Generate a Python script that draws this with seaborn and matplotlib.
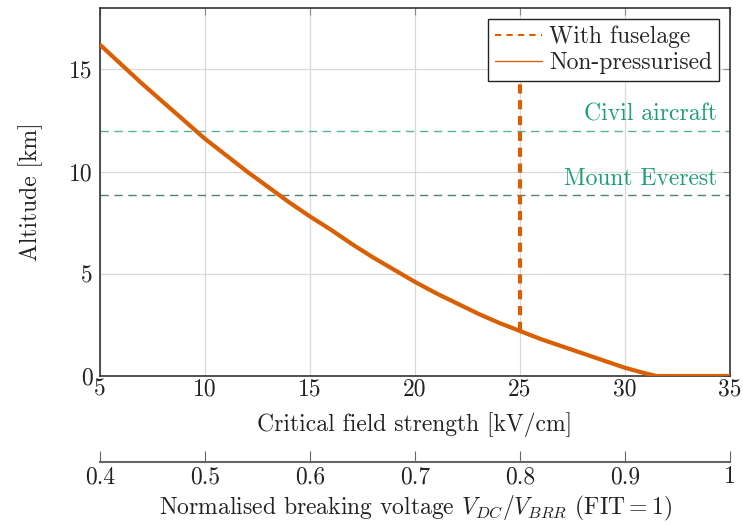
import numpy as np
import pandas as pd
import seaborn as sns
import matplotlib.pyplot as plt
from matplotlib.lines import Line2D

# critical field strength [kV/cm] vs altitude [km]
field = [5, 6, 7, 8, 9, 10, 11, 12, 13, 14, 15, 16, 17, 18, 19, 20,
         21, 22, 23, 24, 25, 26, 27, 28, 29, 30, 31, 31.5, 33, 35]
altitude = [16.2, 15.25, 14.3, 13.4, 12.5, 11.6, 10.8, 10.0, 9.25, 8.5, 7.8, 7.15,
            6.45, 5.8, 5.2, 4.6, 4.05, 3.55, 3.05, 2.6, 2.2, 1.8, 1.45, 1.1, 0.75,
            0.4, 0.12, 0.0, 0.0, 0.0]

fuselage_field = [25, 25]
fuselage_alt = [2.2, 16.0]

civil_alt = 12.0
everest_alt = 8.85

x_ticks = [5, 10, 15, 20, 25, 30, 35]
y_ticks = [0, 5, 10, 15]
norm_ticks = [0.4, 0.5, 0.6, 0.7, 0.8, 0.9, 1.0]
norm_labels = ['0.4', '0.5', '0.6', '0.7', '0.8', '0.9', '1']

orange = '#d95f02'
green = '#1b9e77'
fs = 17

sns.set_style("whitegrid")
plt.rcParams['font.family'] = ['cmr10', 'DejaVu Serif']
plt.rcParams['mathtext.fontset'] = 'cm'
plt.rcParams['axes.formatter.use_mathtext'] = True

fig = plt.figure(figsize=(7.43, 5.25), dpi=100)
ax = fig.add_axes([0.1346, 0.2838, 0.848, 0.701])

df = pd.DataFrame({'field': field, 'altitude': altitude})
sns.lineplot(data=df, x='field', y='altitude', color=orange, lw=3, ax=ax, zorder=3)
ax.plot(fuselage_field, fuselage_alt, color=orange, lw=3, ls=(0, (2.2, 1.6)), zorder=3)

ax.axhline(civil_alt, color=green, lw=1, ls=(0, (6, 4)), alpha=0.75, zorder=2)
ax.axhline(everest_alt, color='#2f6e5c', lw=1, ls=(0, (6, 4)), alpha=0.85, zorder=2)
ax.text(34.4, civil_alt + 0.25, 'Civil aircraft', color=green, ha='right', va='bottom', fontsize=fs)
ax.text(34.4, everest_alt + 0.25, 'Mount Everest', color=green, ha='right', va='bottom', fontsize=fs)

ax.set_xlim(5, 35)
ax.set_ylim(0, 18)
ax.set_xticks(x_ticks)
ax.set_yticks(y_ticks)
ax.set_xticklabels([str(t) for t in x_ticks])
ax.set_yticklabels([str(t) for t in y_ticks])
ax.grid(True, color='#d9d9d9', lw=0.9)
ax.tick_params(direction='in', length=5, color='#888888', top=True, right=True,
               labelsize=fs, labelcolor='#222222', pad=2)
ax.tick_params(axis='y', pad=5)
for s in ax.spines.values():
    s.set_color('#333333')
    s.set_linewidth(1.2)
ax.set_xlabel('Critical field strength [kV/cm]', fontsize=fs, labelpad=8, color='#222222')
ax.set_ylabel('Altitude [km]', fontsize=fs, labelpad=19, color='#222222')

# secondary axis: normalised breaking voltage
sec = ax.secondary_xaxis(-0.234, functions=(lambda x: 0.4 + (x - 5) * 0.02,
                                             lambda v: 5 + (v - 0.4) / 0.02))
sec.set_xticks(norm_ticks)
sec.set_xticklabels(norm_labels)
sec.tick_params(direction='in', length=8, color='#666666', labelsize=fs,
                labelcolor='#222222', pad=3)
sec.spines['bottom'].set_color('#666666')
sec.spines['bottom'].set_linewidth(1.5)
sec.set_xlabel(r'Normalised breaking voltage $V_{DC}/V_{BRR}$ (FIT$=1$)',
               fontsize=fs, labelpad=4, color='#222222')

handles = [Line2D([], [], color=orange, lw=1.5, ls=(0, (3, 2.5))),
           Line2D([], [], color=orange, lw=1)]
leg = ax.legend(handles, ['With fuselage', 'Non-pressurised'], loc='upper right',
                fontsize=fs, frameon=True, fancybox=False, framealpha=1,
                handlelength=2.0, handletextpad=0.3, borderpad=0.3,
                labelspacing=0.15, borderaxespad=0.45)
leg.get_frame().set_edgecolor('#222222')
leg.get_frame().set_linewidth(1)

fig.savefig('out.png', dpi=100)
